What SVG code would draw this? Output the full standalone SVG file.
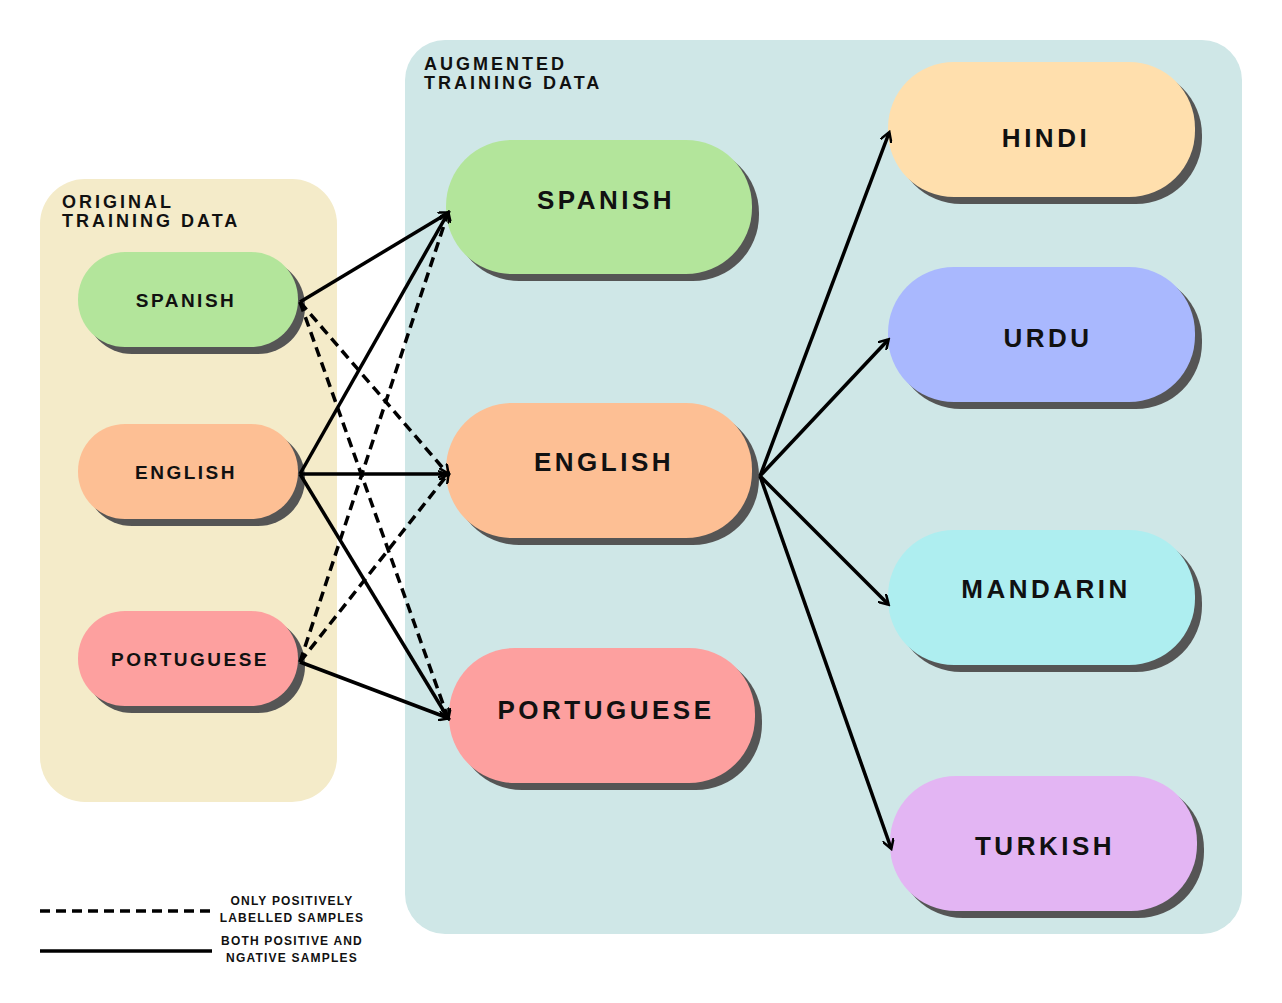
<svg xmlns="http://www.w3.org/2000/svg" width="1282" height="1003" viewBox="0 0 1282 1003">
<defs>
<style>
.t{font-family:"Liberation Sans",Arial,sans-serif;font-weight:bold;fill:#111;text-anchor:middle;dominant-baseline:central}
.s{font-size:19px;letter-spacing:2.5px}
.b{font-size:26px;letter-spacing:3.5px}
.h{font-family:"Liberation Sans",Arial,sans-serif;font-weight:bold;fill:#111;font-size:18px;letter-spacing:3px}
.l{font-family:"Liberation Sans",Arial,sans-serif;font-weight:bold;fill:#111;font-size:12px;letter-spacing:1.2px;text-anchor:middle}
.sh{fill:#555}
.c{stroke:#000;stroke-width:3.5;fill:none}
.d{stroke-dasharray:10 6}
</style>
<marker id="a" markerWidth="12" markerHeight="12" refX="9" refY="6" orient="auto" markerUnits="userSpaceOnUse" viewBox="0 0 12 12"><path d="M0,0 L10,6 L0,12" fill="none" stroke="#000" stroke-width="2.5"/></marker>
</defs>
<rect width="1282" height="1003" fill="#fff"/>
<g id="orig-panel"><rect x="40" y="179" width="297" height="623" rx="45" fill="#f4ebc9"/><text class="h" x="62" y="208">ORIGINAL</text><text class="h" x="62" y="227">TRAINING DATA</text></g>
<g id="aug-panel"><rect x="405" y="40" width="837" height="894" rx="40" fill="#cfe7e7"/><text class="h" x="424" y="70">AUGMENTED</text><text class="h" x="424" y="89">TRAINING DATA</text></g>

<g id="o-spanish"><rect class="sh" x="85" y="259" width="220" height="95" rx="47"/><rect x="78" y="252" width="220" height="95" rx="47" fill="#b3e59b"/><text class="t s" x="186" y="300">SPANISH</text></g>
<g id="o-english"><rect class="sh" x="85" y="431" width="220" height="95" rx="47"/><rect x="78" y="424" width="220" height="95" rx="47" fill="#fdbf94"/><text class="t s" x="186" y="472">ENGLISH</text></g>
<g id="o-portuguese"><rect class="sh" x="85" y="618" width="220" height="95" rx="47"/><rect x="78" y="611" width="220" height="95" rx="47" fill="#fda09f"/><text class="t s" x="190" y="659">PORTUGUESE</text></g>

<g id="a-spanish"><rect class="sh" x="453" y="147" width="306" height="134" rx="66"/><rect x="446" y="140" width="306" height="134" rx="66" fill="#b3e59b"/><text class="t b" x="606" y="200">SPANISH</text></g>
<g id="a-english"><rect class="sh" x="453" y="410" width="306" height="135" rx="66"/><rect x="446" y="403" width="306" height="135" rx="66" fill="#fdbf94"/><text class="t b" x="604" y="462">ENGLISH</text></g>
<g id="a-portuguese"><rect class="sh" x="456" y="655" width="306" height="135" rx="66"/><rect x="449" y="648" width="306" height="135" rx="66" fill="#fda09f"/><text class="t b" x="606" y="710">PORTUGUESE</text></g>

<g id="hindi"><rect class="sh" x="895" y="69" width="307" height="135" rx="66"/><rect x="888" y="62" width="307" height="135" rx="66" fill="#ffdfad"/><text class="t b" x="1046" y="138">HINDI</text></g>
<g id="urdu"><rect class="sh" x="895" y="274" width="307" height="135" rx="66"/><rect x="888" y="267" width="307" height="135" rx="66" fill="#a9b8fe"/><text class="t b" x="1048" y="338">URDU</text></g>
<g id="mandarin"><rect class="sh" x="895" y="537" width="307" height="135" rx="66"/><rect x="888" y="530" width="307" height="135" rx="66" fill="#aeeef0"/><text class="t b" x="1046" y="589">MANDARIN</text></g>
<g id="turkish"><rect class="sh" x="897" y="783" width="307" height="135" rx="66"/><rect x="890" y="776" width="307" height="135" rx="66" fill="#e3b5f3"/><text class="t b" x="1045" y="846">TURKISH</text></g>

<g id="connectors">
<line class="c" x1="300" y1="302" x2="448" y2="213" marker-end="url(#a)"/>
<line class="c" x1="300" y1="474" x2="448" y2="213" marker-end="url(#a)"/>
<line class="c" x1="300" y1="474" x2="448" y2="474" marker-end="url(#a)"/>
<line class="c" x1="300" y1="474" x2="448" y2="718" marker-end="url(#a)"/>
<line class="c" x1="300" y1="662" x2="448" y2="718" marker-end="url(#a)"/>
<line class="c d" x1="300" y1="302" x2="448" y2="474" marker-end="url(#a)"/>
<line class="c d" x1="300" y1="302" x2="448" y2="718" marker-end="url(#a)"/>
<line class="c d" x1="300" y1="662" x2="448" y2="213" marker-end="url(#a)"/>
<line class="c d" x1="300" y1="662" x2="448" y2="474" marker-end="url(#a)"/>
<line class="c" x1="760" y1="476" x2="889" y2="133" marker-end="url(#a)"/>
<line class="c" x1="760" y1="476" x2="888" y2="340" marker-end="url(#a)"/>
<line class="c" x1="760" y1="476" x2="888" y2="604" marker-end="url(#a)"/>
<line class="c" x1="760" y1="476" x2="891" y2="848" marker-end="url(#a)"/>
</g>
<g id="legend">
<line class="c d" x1="40" y1="911" x2="212" y2="911"/>
<line class="c" x1="40" y1="951" x2="212" y2="951"/>
<text class="l" x="292" y="905">ONLY POSITIVELY</text>
<text class="l" x="292" y="922">LABELLED SAMPLES</text>
<text class="l" x="292" y="945">BOTH POSITIVE AND</text>
<text class="l" x="292" y="962">NGATIVE SAMPLES</text>
</g>
</svg>
